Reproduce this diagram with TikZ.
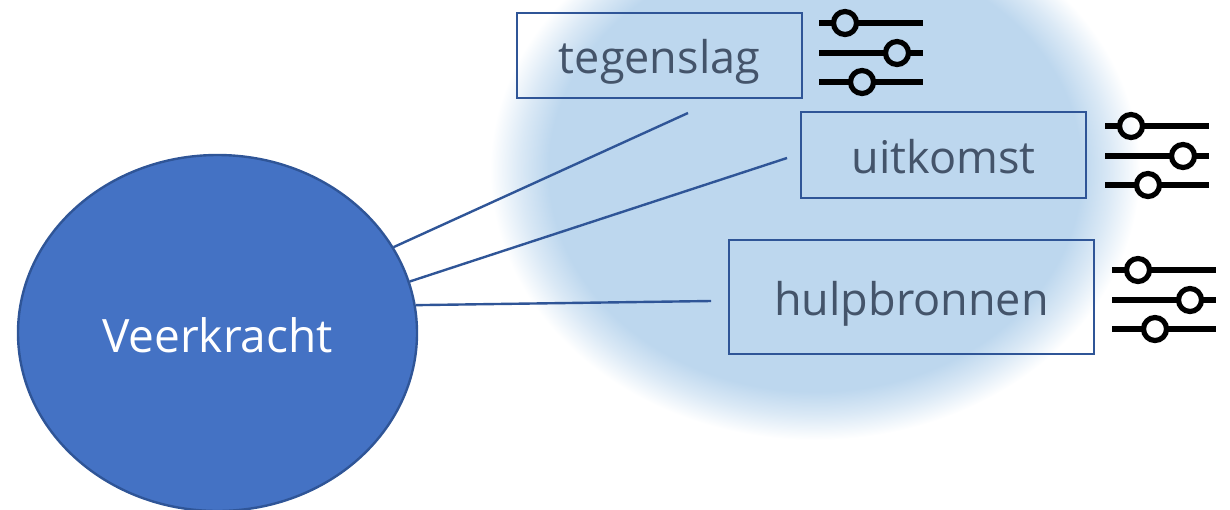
\documentclass[tikz,border=0pt]{standalone}
\usepackage{fontspec}
\setmainfont{Open Sans}
\usetikzlibrary{shapes.geometric}
\definecolor{rimblue}{HTML}{2F5597}
\definecolor{circleblue}{HTML}{4472C4}
\definecolor{slateblue}{HTML}{44546A}
\definecolor{hazeblue}{HTML}{BDD7EE}
\pgfdeclareradialshading{haze}{\pgfpoint{0bp}{0bp}}{color(0bp)=(hazeblue); color(20.5bp)=(hazeblue); color(22.7bp)=(hazeblue!55!white); color(25bp)=(white); color(100bp)=(white)}
\tikzset{
  factor/.style={draw=rimblue, line width=2.8pt, inner sep=0pt, text=slateblue, font=\fontsize{45}{52}\selectfont, text height=44pt, text depth=8pt},
  link/.style={draw=rimblue, line width=2.4pt},
  track/.style={line width=5.2pt},
  knob/.style={draw, line width=5.2pt},
  pics/sliders/.style={code={
    \draw [track] (0,0) -- (15,0);
    \draw [track] (37,0) -- (104,0);
    \draw [track] (0,30) -- (67,30);
    \draw [track] (89,30) -- (104,30);
    \draw [track] (0,59) -- (32,59);
    \draw [track] (54,59) -- (104,59);
    \node [knob, circle, minimum size=23pt, inner sep=0pt] at (26,0) {};
    \node [knob, circle, minimum size=23pt, inner sep=0pt] at (78,30) {};
    \node [knob, circle, minimum size=23pt, inner sep=0pt] at (43,59) {};
  }}
}

\begin{document}
\begin{tikzpicture}[x=1pt,y=-1pt]
\useasboundingbox (0,0) rectangle (1230,509);
\begin{scope}
\clip (0,0) rectangle (1230,509);
% haze behind the boxes
\path [shading=haze] (815,170) ellipse [x radius=325, y radius=270];
\node [ellipse, draw=rimblue, line width=2.4pt, fill=circleblue, minimum width=399pt, minimum height=356pt, inner sep=0pt, text=white, font=\fontsize{46}{54}\selectfont, text height=39pt, text depth=0pt] (veerkracht) at (217.5,333) {Veerkracht};
\end{scope}

\node [factor, minimum width=285pt, minimum height=85pt] (tegenslag) at (659.5,55.5) {tegenslag};
\node [factor, minimum width=285pt, minimum height=86pt] (uitkomst) at (943.5,155) {uitkomst};
\node [factor, minimum width=365pt, minimum height=114pt] (hulpbronnen) at (911.5,297) {hulpbronnen};

\coordinate (endtegenslag) at (688,113);
\coordinate (enduitkomst) at (787,158);
\coordinate (endhulpbronnen) at (711,301);
\draw [link] (veerkracht.26) -- (endtegenslag);
\draw [link] (veerkracht.15) -- (enduitkomst);
\draw [link] (veerkracht.8.5) -- (endhulpbronnen);

\pic at (819,23) {sliders};
\pic at (1105,126) {sliders};
\pic at (1112,270) {sliders};
\end{tikzpicture}
\end{document}
